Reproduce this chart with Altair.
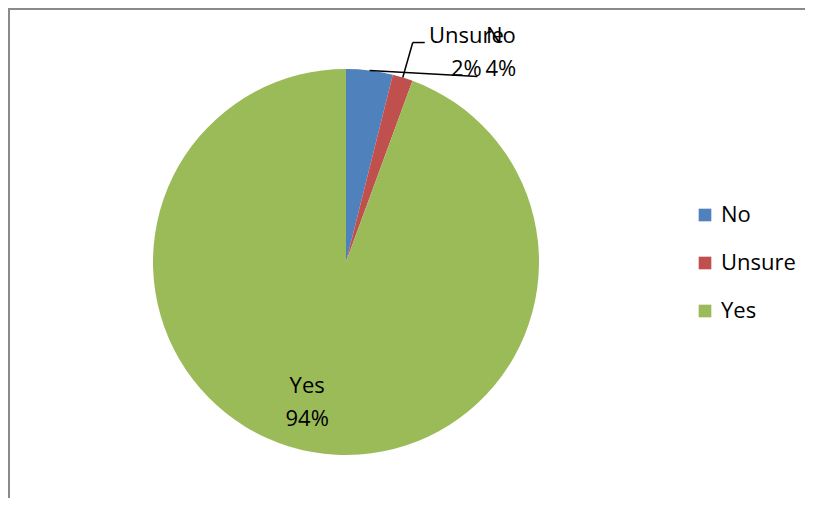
import altair as alt
import pandas as pd

categories = ["No", "Unsure", "Yes"]
values = [3.9, 1.7, 94.4]
order_idx = [0, 1, 2]
colors = ["#4F81BD", "#C0504D", "#9BBB59"]

df = pd.DataFrame({"category": categories, "value": values, "idx": order_idx})

W, H = 797, 490
CX, CY, R = 338, 254, 193
FONT = "Open Sans"
FS = 22
LH = 33

base = alt.Chart(df).transform_joinaggregate(
    total="sum(value)"
).transform_window(
    cum="sum(value)", sort=[alt.SortField("idx")], frame=[None, 0]
).transform_calculate(
    label="datum.category + '\\n' + format(datum.value / datum.total, '.0%')",
    mid="2 * PI * (datum.cum - datum.value / 2) / datum.total",
)
base = base.transform_calculate(
    sx=f"{CX} + {R} * sin(datum.mid)",
    sy=f"{CY} - {R} * cos(datum.mid)",
)

color = alt.Color(
    "category:N",
    scale=alt.Scale(domain=categories, range=colors),
    legend=alt.Legend(
        orient="none", legendX=686, legendY=196, title=None,
        symbolType="square", symbolSize=160, symbolStrokeWidth=0,
        labelFontSize=FS, labelFont=FONT, labelColor="#000000",
        rowPadding=26, labelOffset=5, padding=0,
    ),
)

theta = alt.Theta("value:Q", stack=True)
order = alt.Order("idx:Q")

pie = base.mark_arc(radius=R).encode(
    theta=theta, color=color, order=order,
    x=alt.value(CX), y=alt.value(CY),
)

def label_layer(cat, radius, dx, dy):
    return base.transform_calculate(
        t=f"datum.category == '{cat}' ? datum.label : ''"
    ).mark_text(
        radius=radius, dx=dx, dy=dy, font=FONT, fontSize=FS, color="#000000",
        lineBreak="\n", lineHeight=LH, align="center", baseline="middle",
    ).encode(
        theta=theta, order=order, text="t:N",
        x=alt.value(CX), y=alt.value(CY),
    )

labels = [
    label_layer("Yes", 142, -14, -16),
    label_layer("No", 211, 129, -17),
    label_layer("Unsure", 219, 56, -17),
]

leaders = {
    "No": [((0, 0), (108, 6))],
    "Unsure": [((0, 0), (10, -35)), ((10, -35), (22, -35))],
}

leader_layers = []
for cat, segs in leaders.items():
    for (a0, b0), (a1, b1) in segs:
        leader_layers.append(
            base.transform_filter(f"datum.category == '{cat}'").transform_calculate(
                x0=f"datum.sx + {a0}", y0=f"datum.sy + {b0}",
                x1=f"datum.sx + {a1}", y1=f"datum.sy + {b1}",
            ).mark_rule(color="#000000", strokeWidth=1.5).encode(
                x=alt.X("x0:Q", scale=None, axis=None),
                y=alt.Y("y0:Q", scale=None, axis=None),
                x2="x1:Q", y2="y1:Q",
            )
        )

frame_top = alt.Chart(df).mark_rule(color="#8A8A8A", strokeWidth=2).encode(
    x=alt.value(0), x2=alt.value(W), y=alt.value(1)
)
frame_left = alt.Chart(df).mark_rule(color="#8A8A8A", strokeWidth=2).encode(
    x=alt.value(1), y=alt.value(0), y2=alt.value(H)
)

chart = alt.layer(
    frame_top, frame_left, pie, *leader_layers, *labels
).properties(
    width=W, height=H, padding=0, autosize=alt.AutoSizeParams(type="none")
).configure_view(stroke=None)

chart.save("out.html", embed_options={"renderer": "svg", "actions": False})
